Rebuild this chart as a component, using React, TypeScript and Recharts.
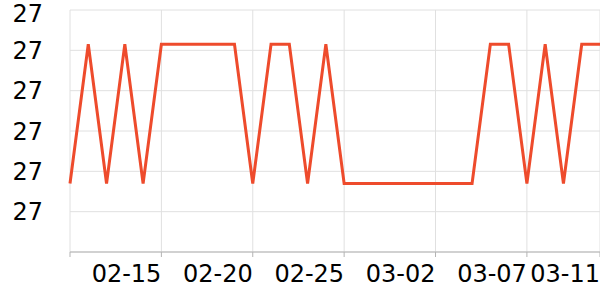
import { LineChart, Line, XAxis, YAxis, CartesianGrid } from "recharts"

const dates = [
  "02-10", "02-11", "02-12", "02-13", "02-14", "02-15", "02-16", "02-17", "02-18", "02-19",
  "02-20", "02-21", "02-22", "02-23", "02-24", "02-25", "02-26", "02-27", "02-28", "03-01",
  "03-02", "03-03", "03-04", "03-05", "03-06", "03-07", "03-08", "03-09", "03-10", "03-11",
]

const values = [
  26.974, 27.043, 26.974, 27.043, 26.974, 27.043, 27.043, 27.043, 27.043, 27.043,
  26.974, 27.043, 27.043, 26.974, 27.043, 26.974, 26.974, 26.974, 26.974, 26.974,
  26.974, 26.974, 26.974, 27.043, 27.043, 26.974, 27.043, 26.974, 27.043, 27.043,
]

const xTicks = ["02-10", "02-15", "02-20", "02-25", "03-02", "03-07", "03-11"]
const yTicks = [26.96, 26.98, 27.0, 27.02, 27.04, 27.06]

const data = dates.map((d, i) => ({ date: d, value: values[i] }))

const font = "'DejaVu Sans', sans-serif"

// labels sit to the left of their tick, the first one is not shown
function DateTick(props: any) {
  const { x, y, payload } = props
  if (payload.value === "02-10") return null
  return (
    <text x={x} y={y} dy="0.71em" textAnchor="end" fontSize={24} fontFamily={font} fill="#000">
      {payload.value}
    </text>
  )
}

export default function App() {
  return (
    <div style={{ position: "absolute", left: 0, top: 0, width: 600, height: 300, background: "#fff" }}>
      <LineChart width={600} height={300} data={data} margin={{ top: 10, right: 0, bottom: 0, left: 0 }}>
        <CartesianGrid stroke="#e0e0e0" strokeWidth={1} />
        <XAxis
          dataKey="date"
          ticks={xTicks}
          interval={0}
          height={48}
          tick={<DateTick />}
          tickSize={5}
          tickMargin={8}
          axisLine={{ stroke: "#b3b3b3" }}
          tickLine={{ stroke: "#b3b3b3" }}
        />
        <YAxis
          domain={[26.94, 27.06]}
          ticks={yTicks}
          width={70}
          axisLine={false}
          tickLine={false}
          tickSize={0}
          tickMargin={27}
          tickFormatter={(v: number) => String(Math.round(v))}
          tick={{ fontSize: 24, fontFamily: font, fill: "#000" }}
        />
        <Line
          type="linear"
          dataKey="value"
          stroke="#ee4b2c"
          strokeWidth={3}
          dot={false}
          isAnimationActive={false}
        />
      </LineChart>
    </div>
  )
}
